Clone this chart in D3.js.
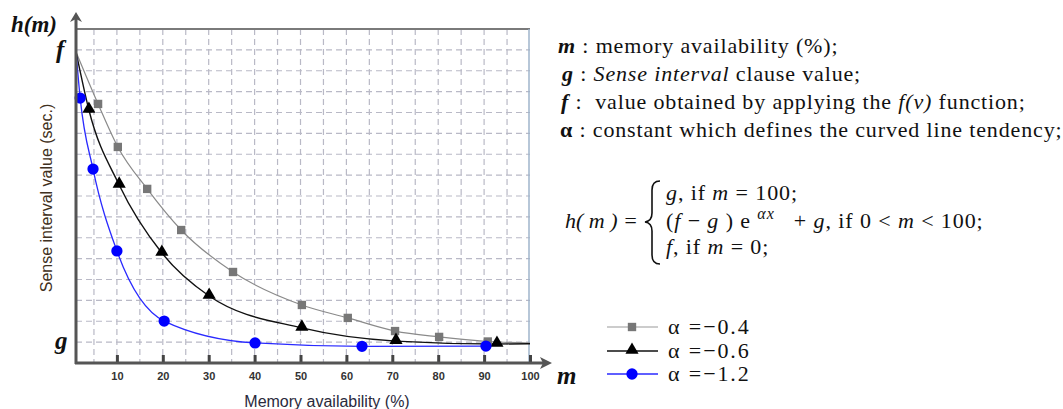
<!DOCTYPE html>
<html>
<head>
<meta charset="utf-8">
<script src="https://cdn.jsdelivr.net/npm/d3@7"></script>
<style>
  body { margin: 0; background: #fff; }
  svg { display: block; }
  .serif { font-family: "Liberation Serif", "Times New Roman", serif; fill: #111; }
  .grid line { stroke: #b9b9c6; stroke-width: 1.2; stroke-dasharray: 6 4; }
  .xaxis text { font-family: "Liberation Sans", Arial, sans-serif; font-size: 11px; font-weight: bold; fill: #333; }
</style>
</head>
<body>
<svg id="chart" width="1063" height="409"></svg>
<script>
// --- Data (m in %, h in grid units: g = 0, f = 14) ---

const xTicks = [10, 20, 30, 40, 50, 60, 70, 80, 90, 100];
const alphaLabels = ["\u22120.4", "\u22120.6", "\u22121.2"];

const curveStart = [1.1, 13.9];

const grayM = [5.9, 10.2, 16.6, 24.0, 35.3, 50.3, 60.3, 70.6, 80.2, 90.8];
const grayH = [11.41, 9.35, 7.34, 5.37, 3.36, 1.78, 1.16, 0.53, 0.25, 0.03];
const grayEnd = [100, -0.05];

const blackM = [3.9, 10.5, 19.8, 30.1, 50.3, 70.8, 92.8];
const blackH = [11.12, 7.53, 4.27, 2.21, 0.68, 0.05, -0.09];
const blackEnd = [100, -0.08];

const blueM = [2.0, 4.8, 10.0, 20.3, 40.1, 63.4, 90.4];
const blueH = [11.69, 8.29, 4.37, 1.01, -0.04, -0.2, -0.19];
const blueEnd = [90.4, -0.19];

// --- Layout ---

const svg = d3.select("#chart");
const axisX = 76;
const topY = 29;
const bottomY = 363;
const rightX = 530;

const x = d3.scaleLinear().domain([0, 100]).range([71, 530]);
const y = d3.scaleLinear().domain([-1, 15]).range([363, 29]);

// --- Grid ---

const grid = svg.append("g").attr("class", "grid");
grid.selectAll(".v")
  .data(d3.range(5, 100, 5))
  .join("line")
  .attr("x1", (d) => x(d)).attr("x2", (d) => x(d))
  .attr("y1", topY).attr("y2", bottomY);
grid.selectAll(".h")
  .data(d3.range(0, 15))
  .join("line")
  .attr("class", "h")
  .attr("x1", axisX).attr("x2", rightX)
  .attr("y1", (d) => y(d)).attr("y2", (d) => y(d));

// frame: top and right borders
svg.append("line")
  .attr("x1", axisX).attr("x2", rightX).attr("y1", topY).attr("y2", topY)
  .attr("stroke", "#7a7a7a").attr("stroke-width", 2);
svg.append("line")
  .attr("x1", rightX - 1).attr("x2", rightX - 1).attr("y1", topY).attr("y2", bottomY)
  .attr("stroke", "#9fb4cb").attr("stroke-width", 1.5);

// --- Series ---

const series = [
  { m: grayM, h: grayH, end: grayEnd, color: "#8a8a8a", marker: "#777", shape: d3.symbolSquare, size: 70, width: 1.2 },
  { m: blackM, h: blackH, end: blackEnd, color: "#111", marker: "#000", shape: d3.symbolTriangle, size: 75, width: 1.4 },
  { m: blueM, h: blueH, end: blueEnd, color: "#2a2aff", marker: "#0000ff", shape: d3.symbolCircle, size: 100, width: 1.3 },
];

const line = d3.line()
  .x((d) => x(d[0]))
  .y((d) => y(d[1]))
  .curve(d3.curveMonotoneX);

for (const s of series) {
  const pts = [curveStart, ...s.m.map((m, i) => [m, s.h[i]]), s.end];
  svg.append("path")
    .attr("d", line(pts))
    .attr("fill", "none")
    .attr("stroke", s.color)
    .attr("stroke-width", s.width);
}

for (const s of series) {
  svg.append("g")
    .selectAll("path")
    .data(s.m.map((m, i) => [m, s.h[i]]))
    .join("path")
    .attr("d", d3.symbol().type(s.shape).size(s.size))
    .attr("transform", (d) => `translate(${x(d[0])},${y(d[1]) + (s.shape === d3.symbolTriangle ? -1 : 0)})`)
    .attr("fill", s.marker);
}

// --- Axes ---

const xAxis = svg.append("g")
  .attr("class", "xaxis")
  .attr("transform", `translate(0,${bottomY})`)
  .call(d3.axisBottom(x).tickValues(xTicks).tickSize(-8).tickPadding(9));
xAxis.select(".domain").remove();
xAxis.selectAll(".tick line").attr("stroke", "#444").attr("stroke-width", 3);

svg.append("line")
  .attr("x1", axisX - 1).attr("x2", 546).attr("y1", bottomY).attr("y2", bottomY)
  .attr("stroke", "#555").attr("stroke-width", 3);
svg.append("path")
  .attr("d", `M552,${bottomY} L540,${bottomY - 6} L543,${bottomY} L540,${bottomY + 6} Z`)
  .attr("fill", "#555");

svg.append("line")
  .attr("x1", axisX).attr("x2", axisX).attr("y1", bottomY + 1).attr("y2", 19)
  .attr("stroke", "#555").attr("stroke-width", 3);
svg.append("path")
  .attr("d", `M${axisX},12 L${axisX - 6},22 L${axisX},19 L${axisX + 6},22 Z`)
  .attr("fill", "#555");

// axis symbols
svg.append("text").attr("class", "serif").attr("x", 11).attr("y", 32)
  .attr("font-size", 23).attr("font-weight", "bold").attr("font-style", "italic").text("h(m)");
svg.append("text").attr("class", "serif").attr("x", 56).attr("y", 58)
  .attr("font-size", 25).attr("font-weight", "bold").attr("font-style", "italic").text("f");
svg.append("text").attr("class", "serif").attr("x", 55).attr("y", 349)
  .attr("font-size", 25).attr("font-weight", "bold").attr("font-style", "italic").text("g");
svg.append("text").attr("class", "serif").attr("x", 557).attr("y", 384)
  .attr("font-size", 25).attr("font-weight", "bold").attr("font-style", "italic").text("m");

// axis titles
svg.append("text")
  .attr("transform", "translate(52,198) rotate(-90)")
  .attr("text-anchor", "middle")
  .attr("font-family", "Liberation Sans, Arial, sans-serif")
  .attr("font-size", 16)
  .attr("fill", "#3f3020")
  .text("Sense interval value (sec.)");
svg.append("text")
  .attr("x", 327).attr("y", 407)
  .attr("text-anchor", "middle")
  .attr("font-family", "Liberation Sans, Arial, sans-serif")
  .attr("font-size", 16)
  .attr("fill", "#2a2a3c")
  .text("Memory availability (%)");

// --- Definitions text ---

const defs = [
  { sym: "m", x: 558, parts: [[" : memory availability (%);", "normal"]] },
  { sym: "g", x: 562, parts: [[" : ", "normal"], ["Sense interval", "italic"], [" clause value;", "normal"]] },
  { sym: "f", x: 561, parts: [[" :  value obtained by applying the ", "normal"], ["f(v)", "italic"], [" function;", "normal"]] },
  { sym: "\u03b1", x: 560, parts: [[" : constant which defines the curved line tendency;", "normal"]] },
];
const defY = [53, 81, 109, 137];

defs.forEach((d, i) => {
  const t = svg.append("text").attr("class", "serif")
    .attr("x", d.x).attr("y", defY[i]).attr("font-size", 22)
    .attr("letter-spacing", 0.85)
    .style("white-space", "pre");
  t.append("tspan").attr("font-weight", "bold")
    .attr("font-style", d.sym === "\u03b1" ? "normal" : "italic").text(d.sym);
  for (const [txt, st] of d.parts) {
    t.append("tspan").attr("font-style", st).text(txt);
  }
});

// --- Formula ---

const fs = 22;
svg.append("text").attr("class", "serif").attr("x", 565).attr("y", 228).attr("font-size", fs)
  .attr("font-style", "italic").style("white-space", "pre").text("h( m ) =");

svg.append("path")
  .attr("d", "M660,181 Q652,181 652,190 L652,213 Q652,221 645,222 Q652,223 652,231 L652,255 Q652,264 660,264")
  .attr("fill", "none").attr("stroke", "#111").attr("stroke-width", 1.6);

const f1 = svg.append("text").attr("class", "serif").attr("x", 666).attr("y", 200)
  .attr("font-size", fs).attr("letter-spacing", 0.9).style("white-space", "pre");
f1.append("tspan").attr("font-style", "italic").text("g");
f1.append("tspan").text(", if ");
f1.append("tspan").attr("font-style", "italic").text("m");
f1.append("tspan").text(" = 100;");

const f2 = svg.append("text").attr("class", "serif").attr("x", 666).attr("y", 228)
  .attr("font-size", fs).attr("letter-spacing", 0.9).style("white-space", "pre");
f2.append("tspan").text("(");
f2.append("tspan").attr("font-style", "italic").text("f");
f2.append("tspan").text(" \u2212 ");
f2.append("tspan").attr("font-style", "italic").text("g");
f2.append("tspan").text(" ) e ");
f2.append("tspan").attr("font-style", "italic").attr("font-size", 16).attr("dy", -9).text("\u03b1x");
f2.append("tspan").attr("dy", 9).text("   + ");
f2.append("tspan").attr("font-style", "italic").text("g");
f2.append("tspan").text(", if 0 < ");
f2.append("tspan").attr("font-style", "italic").text("m");
f2.append("tspan").text(" < 100;");

const f3 = svg.append("text").attr("class", "serif").attr("x", 666).attr("y", 254)
  .attr("font-size", fs).attr("letter-spacing", 0.9).style("white-space", "pre");
f3.append("tspan").attr("font-style", "italic").text("f");
f3.append("tspan").text(", if ");
f3.append("tspan").attr("font-style", "italic").text("m");
f3.append("tspan").text(" = 0;");

// --- Legend ---

const legendY = [327, 351, 374];
series.forEach((s, i) => {
  const g = svg.append("g").attr("transform", `translate(0,${legendY[i]})`);
  g.append("line").attr("x1", 607).attr("x2", 658).attr("y1", 0).attr("y2", 0)
    .attr("stroke", i === 0 ? "#999" : s.color).attr("stroke-width", s.width);
  g.append("path").attr("d", d3.symbol().type(s.shape).size(s.size))
    .attr("transform", `translate(632,${i === 1 ? -1 : 0})`).attr("fill", s.marker);
  g.append("text").attr("class", "serif").attr("x", 668).attr("y", 7)
    .attr("font-size", 22).attr("letter-spacing", 1.9).style("white-space", "pre")
    .text(`\u03b1 =${alphaLabels[i]}`);
});
</script>
</body>
</html>
